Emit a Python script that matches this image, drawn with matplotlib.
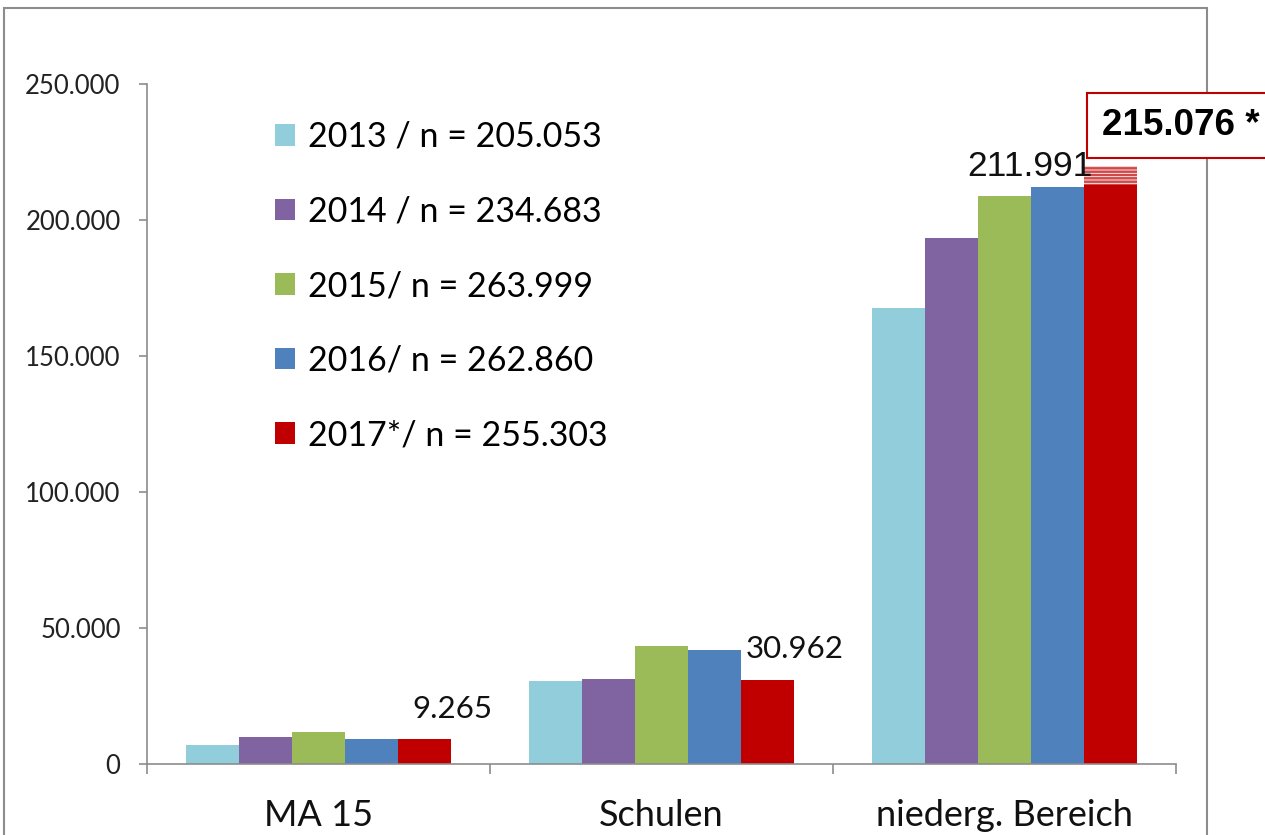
import matplotlib.pyplot as plt
from matplotlib.patches import Patch, Rectangle
import numpy as np

categories = ['MA 15', 'Schulen', 'niederg. Bereich']
years = ['2013 / n = 205.053', '2014 / n = 234.683', '2015/ n = 263.999',
         '2016/ n = 262.860', '2017*/ n = 255.303']
v2013 = [7100, 30700, 167500]
v2014 = [10000, 31200, 193300]
v2015 = [11900, 43500, 208900]
v2016 = [9200, 42000, 211991]
v2017 = [9265, 30962, 213000]
# hatched top of the 2017 bar in the last group (preliminary value)
v2017_top = 220000
box_label = '215.076 *'
tick_vals = [0, 50000, 100000, 150000, 200000, 250000]
tick_labels = ['0', '50.000', '100.000', '150.000', '200.000', '250.000']

colors = ['#92CDDC', '#8064A2', '#9BBB59', '#4F81BD', '#C00000']
series = [v2013, v2014, v2015, v2016, v2017]

plt.rcParams['font.family'] = ['Lato', 'DejaVu Sans']
plt.rcParams['hatch.linewidth'] = 1.8

fig = plt.figure(figsize=(12.65, 8.35), dpi=100)
ax = fig.add_axes([147/1265, 1 - 764.3/835, 1029/1265, 680.3/835])

x = np.arange(len(categories))
w = 0.154
for i, (vals, c) in enumerate(zip(series, colors)):
    ax.bar(x + (i - 2) * w, vals, width=w, color=c, edgecolor='none', zorder=2)

# hatched extension of the last red bar
xr = x[2] + 2 * w
ax.bar(xr, v2017_top - v2017[2], bottom=v2017[2], width=w, facecolor='white',
       edgecolor='#D04848', linewidth=0, hatch='-----', zorder=2)

ax.set_xlim(-0.5, 2.5)
ax.set_ylim(0, 250000)
ax.set_yticks(tick_vals)
ax.set_yticklabels(tick_labels)
ax.set_xticks(x)
ax.set_xticklabels(categories)
ax.set_xticks([-0.5, 0.5, 1.5, 2.5], minor=True)

for s in ['top', 'right']:
    ax.spines[s].set_visible(False)
for s in ['left', 'bottom']:
    ax.spines[s].set_color('#8C8C8C')
    ax.spines[s].set_linewidth(1.2)

ax.tick_params(axis='y', length=6, width=1.2, color='#8C8C8C', pad=13,
               labelsize=18.5, labelcolor='#222222')
ax.tick_params(axis='x', which='major', length=0, pad=25, labelsize=26,
               labelcolor='#111111')
ax.tick_params(axis='x', which='minor', length=7, width=1.2, color='#8C8C8C')

# data labels
for k in [0, 1]:
    ax.annotate(f'{v2017[k]:,}'.replace(',', '.'), xy=(x[k] + 2.5 * w, v2017[k]),
                xytext=(1, 22), textcoords='offset points', ha='center', va='center',
                fontsize=22.5, color='#111111')
ax.annotate(f'{v2016[2]:,}'.replace(',', '.'), xy=(x[2] + w, v2016[2]),
            xytext=(-20, 15), textcoords='offset points', ha='center', va='center',
            fontsize=25.5, family='Liberation Sans', color='#111111')
ax.annotate(box_label, xy=(xr - w / 2, v2017_top), xytext=(13, 29),
            textcoords='offset points', ha='left', va='center', fontsize=26.5,
            fontweight='bold', family='Liberation Sans', color='black',
            annotation_clip=False,
            bbox=dict(boxstyle='square,pad=0.4', facecolor='white',
                      edgecolor='#C00000', linewidth=1.5))

handles = [Patch(facecolor=c, edgecolor='none') for c in colors]
ax.legend(handles, years, loc='upper left', frameon=False, fontsize=24.5,
          bbox_to_anchor=(275/1265, 1 - 121/835), bbox_transform=fig.transFigure,
          borderpad=0, borderaxespad=0, handlelength=0.6, handleheight=0.6,
          handletextpad=0.36, labelspacing=1.25)

# outer frame of the slide chart
fig.patches.append(Rectangle((4/1265, -0.1), 1203/1265, 1.1 - 8/835,
                             transform=fig.transFigure, fill=False,
                             edgecolor='#8C8C8C', linewidth=1.5, zorder=-1))

plt.savefig('out.png', dpi=100)
